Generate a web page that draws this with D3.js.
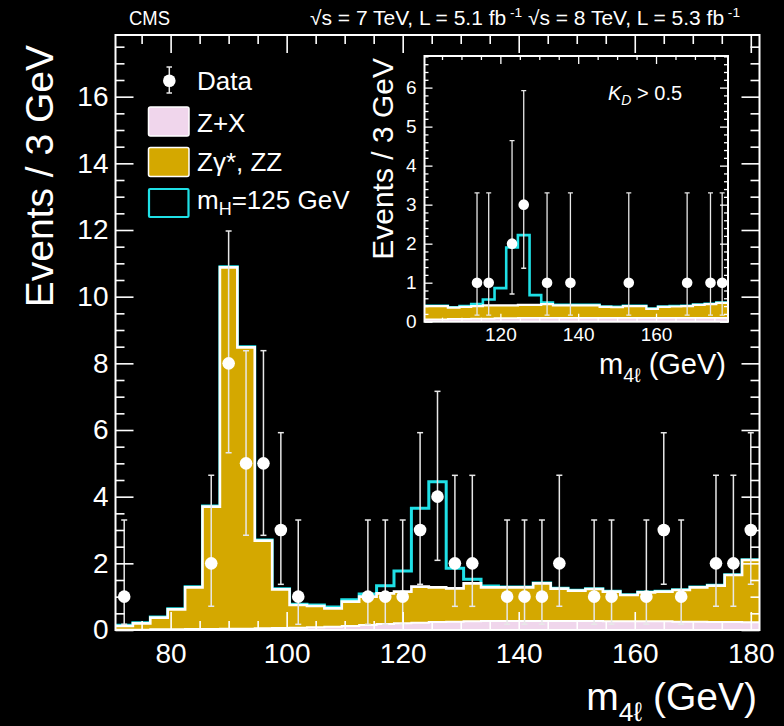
<!DOCTYPE html>
<html><head><meta charset="utf-8">
<script src="https://cdn.jsdelivr.net/npm/d3@7"></script>
<style>
body{margin:0;background:#000;}
svg{display:block;background:#000;}
text{font-family:"Liberation Sans",Arial,Helvetica,sans-serif;fill:#fff;}
</style></head><body>
<svg id="c" width="784" height="726"></svg>
<script>
// ---------- main histogram (3 GeV bins) ----------
const binCenters = [72,75,78,81,84,87,90,93,96,99,102,105,108,111,114,117,120,123,126,129,132,135,138,141,144,147,150,153,156,159,162,165,168,171,174,177,180];
const zxMain  = [0.01,0.01,0.02,0.02,0.03,0.03,0.04,0.04,0.05,0.06,0.07,0.08,0.10,0.12,0.15,0.18,0.20,0.22,0.24,0.25,0.26,0.27,0.27,0.27,0.27,0.27,0.27,0.27,0.26,0.26,0.26,0.26,0.25,0.25,0.24,0.24,0.23];
const zzMain  = [0.11,0.19,0.35,0.60,1.25,3.67,10.84,8.44,2.63,1.16,0.68,0.64,0.55,0.73,0.85,0.92,0.95,1.08,1.04,1.00,1.14,1.01,1.01,1.01,1.13,0.97,0.91,0.96,0.89,0.79,0.87,0.89,0.95,1.03,1.09,1.41,1.87];
const sigMain = [0.02,0.02,0.02,0.02,0.02,0.02,0.02,0.02,0.02,0.02,0.02,0.03,0.04,0.06,0.08,0.23,0.62,2.35,3.17,0.60,0.12,0.04,0.01,0.01,0.01,0.01,0.01,0.01,0.01,0.01,0.01,0.01,0.01,0.01,0.01,0.01,0.01];

const dataMass  = [72,87,90,93,96,99,102,114,117,120,123,126,129,132,138,141,144,147,153,156,162,165,168,174,177,180];
const dataCount = [1,2,8,5,5,3,1,1,1,1,3,4,2,2,1,1,1,2,1,1,1,3,1,2,2,3];
const dataLow   = [0.17,0.71,5.32,2.84,2.84,1.37,0.17,0.17,0.17,0.17,1.37,2.09,0.71,0.71,0.17,0.17,0.17,0.71,0.17,0.17,0.17,1.37,0.17,0.71,0.71,1.37];
const dataHigh  = [3.30,4.64,11.97,8.38,8.38,5.92,3.30,3.30,3.30,3.30,5.92,7.16,4.64,4.64,3.30,3.30,3.30,4.64,3.30,3.30,3.30,5.92,3.30,4.64,4.64,5.92];

const xTicksMain = [80,100,120,140,160,180];
const yTicksMain = [0,2,4,6,8,10,12,14,16];

// ---------- inset (K_D > 0.5) ----------
const insetCenters = [102,105,108,111,114,117,120,123,126,129,132,135,138,141,144,147,150,153,156,159,162,165,168,171,174,177];
const zxInset  = [0.06,0.06,0.07,0.07,0.08,0.08,0.09,0.09,0.10,0.10,0.10,0.10,0.10,0.10,0.10,0.10,0.10,0.10,0.10,0.10,0.10,0.10,0.10,0.10,0.10,0.10];
const zzInset  = [0.34,0.34,0.29,0.31,0.32,0.34,0.33,0.33,0.33,0.33,0.35,0.32,0.32,0.32,0.32,0.28,0.27,0.30,0.30,0.23,0.28,0.29,0.30,0.33,0.35,0.38];
const sigInset = [0.01,0.01,0.01,0.02,0.05,0.15,0.44,1.48,1.79,0.25,0.04,0.01,0.01,0.01,0.01,0.01,0.01,0.01,0.01,0.01,0.01,0.01,0.01,0.01,0.01,0.01];
const insetMass  = [114,117,123,126,132,138,153,168,174,177];
const insetCount = [1,1,2,3,1,1,1,1,1,1];
const insetLow   = [0.17,0.17,0.71,1.37,0.17,0.17,0.17,0.17,0.17,0.17];
const insetHigh  = [3.30,3.30,4.64,5.92,3.30,3.30,3.30,3.30,3.30,3.30];
const xTicksInset = [120,140,160];
const yTicksInset = [0,1,2,3,4,5,6];

const legendLabels = ["Data","Z+X","Zγ*, ZZ","mH=125 GeV"];

// ---------- colours ----------
const GOLD = "#d4a800", PINK = "#f0d6ec", CYAN = "#1fe0e6", WHITE = "#ffffff";

const svg = d3.select("#c");
const HALF = 1.5;
const fmtInt = d3.format("d");

function steps(centers, vals){
  const pts = [];
  centers.forEach((c,i)=>{ pts.push([c-HALF, vals[i]]); pts.push([c+HALF, vals[i]]); });
  return pts;
}

function drawPanel(g, o){
  const {x, y, centers, zx, zz, sig, mass, low, high, count, clipId, r, cyanW, whiteW, capW, errW} = o;
  const tot = zz.map((v,i)=>v+zx[i]);
  const totSig = tot.map((v,i)=>v+sig[i]);
  const [x0,x1] = x.range(), [y0,y1] = y.range();
  g.append("clipPath").attr("id",clipId).append("rect")
    .attr("x",x0).attr("y",y1).attr("width",x1-x0).attr("height",y0-y1);
  const c = g.append("g").attr("clip-path",`url(#${clipId})`);
  const line = d3.line().x(d=>x(d[0])).y(d=>y(d[1]));
  const area = d3.area().x(d=>x(d[0])).y0(y(0)).y1(d=>y(d[1]));
  c.append("path").attr("d",line(steps(centers,totSig))).attr("fill","none").attr("stroke",CYAN).attr("stroke-width",cyanW);
  c.append("path").attr("d",area(steps(centers,tot))).attr("fill",GOLD);
  c.append("path").attr("d",area(steps(centers,zx))).attr("fill",PINK);
  c.append("path").attr("d",line(steps(centers,tot))).attr("fill","none").attr("stroke",WHITE).attr("stroke-width",whiteW);
  c.append("path").attr("d",line(steps(centers,zx))).attr("fill","none").attr("stroke",WHITE).attr("stroke-width",whiteW*0.8);
  const dg = c.append("g");
  mass.forEach((m,i)=>{
    const px = x(m);
    dg.append("line").attr("x1",px).attr("x2",px).attr("y1",y(low[i])).attr("y2",y(high[i])).attr("stroke","#e8e8e8").attr("stroke-width",errW);
    [low[i],high[i]].forEach(v=>{
      dg.append("line").attr("x1",px-capW).attr("x2",px+capW).attr("y1",y(v)).attr("y2",y(v)).attr("stroke","#e8e8e8").attr("stroke-width",errW);
    });
    dg.append("circle").attr("cx",px).attr("cy",y(count[i])).attr("r",r).attr("fill",WHITE);
  });
}

function minorVals(lo, hi, step, majors){
  const out=[];
  for(let v=Math.ceil(lo/step)*step; v<=hi+1e-9; v+=step){
    const vv=Math.round(v*1000)/1000;
    if(!majors.some(m=>Math.abs(m-vv)<1e-6)) out.push(vv);
  }
  return out;
}

function drawAxes(g, o){
  const {x, y, xMaj, yMaj, xMinStep, yMinStep, majL, minL, fs, xPad, yPad, lw, frameW} = o;
  const [x0,x1] = x.range(), [y0,y1] = y.range();
  const xd = x.domain(), yd = y.domain();
  const xMin = minorVals(xd[0], xd[1], xMinStep, xMaj);
  const yMin = minorVals(yd[0], yd[1], yMinStep, yMaj);
  const style = sel => { sel.select(".domain").remove(); sel.selectAll("line").attr("stroke",WHITE).attr("stroke-width",lw); };
  g.append("g").attr("transform",`translate(0,${y0})`).call(d3.axisBottom(x).tickValues(xMaj).tickSize(-majL).tickPadding(xPad).tickFormat(fmtInt)).call(style)
    .selectAll("text").attr("font-size",fs).attr("fill",WHITE).style("font-family","'Liberation Sans',Arial,sans-serif");
  g.append("g").attr("transform",`translate(0,${y0})`).call(d3.axisBottom(x).tickValues(xMin).tickSize(-minL).tickFormat("")).call(style);
  g.append("g").attr("transform",`translate(0,${y1})`).call(d3.axisTop(x).tickValues(xMaj).tickSize(-majL).tickFormat("")).call(style);
  g.append("g").attr("transform",`translate(0,${y1})`).call(d3.axisTop(x).tickValues(xMin).tickSize(-minL).tickFormat("")).call(style);
  g.append("g").attr("transform",`translate(${x0},0)`).call(d3.axisLeft(y).tickValues(yMaj).tickSize(-majL).tickPadding(yPad).tickFormat(fmtInt)).call(style)
    .selectAll("text").attr("font-size",fs).attr("fill",WHITE).style("font-family","'Liberation Sans',Arial,sans-serif");
  g.append("g").attr("transform",`translate(${x0},0)`).call(d3.axisLeft(y).tickValues(yMin).tickSize(-minL).tickFormat("")).call(style);
  g.append("g").attr("transform",`translate(${x1},0)`).call(d3.axisRight(y).tickValues(yMaj).tickSize(-majL).tickFormat("")).call(style);
  g.append("g").attr("transform",`translate(${x1},0)`).call(d3.axisRight(y).tickValues(yMin).tickSize(-minL).tickFormat("")).call(style);
  g.append("rect").attr("x",x0).attr("y",y1).attr("width",x1-x0).attr("height",y0-y1)
    .attr("fill","none").attr("stroke",WHITE).attr("stroke-width",frameW);
}

// ---------- main panel ----------
const xM = d3.scaleLinear().domain([70.5,181.5]).range([115.5,759.5]);
const yM = d3.scaleLinear().domain([0,17.85]).range([630,35]);
const gMain = svg.append("g");
drawPanel(gMain,{x:xM,y:yM,centers:binCenters,zx:zxMain,zz:zzMain,sig:sigMain,mass:dataMass,low:dataLow,high:dataHigh,count:dataCount,clipId:"clipMain",r:6.3,cyanW:3,whiteW:2.6,capW:3,errW:1.5});
drawAxes(gMain,{x:xM,y:yM,xMaj:xTicksMain,yMaj:yTicksMain,xMinStep:5,yMinStep:0.5,majL:18,minL:9,fs:28,xPad:13,yPad:7,lw:1.6,frameW:2});

// ---------- inset ----------
const xI = d3.scaleLinear().domain([100.5,178.5]).range([424.5,728]);
const yI = d3.scaleLinear().domain([0,6.81]).range([321.7,56]);
const gIn = svg.append("g");
gIn.append("rect").attr("x",424.5).attr("y",56).attr("width",728-424.5).attr("height",321.7-56).attr("fill","#000");
drawPanel(gIn,{x:xI,y:yI,centers:insetCenters,zx:zxInset,zz:zzInset,sig:sigInset,mass:insetMass,low:insetLow,high:insetHigh,count:insetCount,clipId:"clipIn",r:5.3,cyanW:2.6,whiteW:2.2,capW:2.5,errW:1.3});
drawAxes(gIn,{x:xI,y:yI,xMaj:xTicksInset,yMaj:yTicksInset,xMinStep:5,yMinStep:0.2,majL:8,minL:4,fs:19,xPad:6,yPad:8,lw:1.3,frameW:2});

// ---------- titles ----------
svg.append("text").attr("transform","translate(53,45) rotate(-90)").attr("text-anchor","end")
  .attr("font-size",39).text("Events / 3 GeV");
svg.append("text").attr("transform","translate(393,58) rotate(-90)").attr("text-anchor","end")
  .attr("font-size",30).text("Events / 3 GeV");

function massTitle(xp, yp, fs){
  const t = svg.append("text").attr("x",xp).attr("y",yp).attr("text-anchor","end").attr("font-size",fs);
  t.append("tspan").text("m");
  t.append("tspan").attr("font-size",fs*0.68).attr("dy",fs*0.28).text("4ℓ");
  t.append("tspan").attr("dy",-fs*0.28).text(" (GeV)");
}
massTitle(757,710,39);
massTitle(726,374,29);

// K_D label
const kd = svg.append("text").attr("x",608).attr("y",100).attr("font-size",20);
kd.append("tspan").attr("font-style","italic").text("K");
kd.append("tspan").attr("font-style","italic").attr("font-size",14).attr("dy",5).text("D");
kd.append("tspan").attr("dy",-5).text(" > 0.5");

// header
svg.append("text").attr("x",129).attr("y",25).attr("font-size",20).attr("textLength",41).attr("lengthAdjust","spacingAndGlyphs").text("CMS");
const hd = svg.append("text").attr("x",310).attr("y",25).attr("font-size",20).attr("textLength",430).attr("lengthAdjust","spacingAndGlyphs");
hd.append("tspan").text("√s = 7 TeV, L = 5.1 fb");
hd.append("tspan").attr("font-size",13).attr("dy",-8).text(" -1");
hd.append("tspan").attr("dy",8).text("   √s = 8 TeV, L = 5.3 fb");
hd.append("tspan").attr("font-size",13).attr("dy",-8).text(" -1");

// ---------- legend ----------
const lg = svg.append("g");
lg.append("line").attr("x1",169.3).attr("x2",169.3).attr("y1",67).attr("y2",93).attr("stroke","#e8e8e8").attr("stroke-width",1.5);
[67,93].forEach(v=>lg.append("line").attr("x1",166.5).attr("x2",172).attr("y1",v).attr("y2",v).attr("stroke","#e8e8e8").attr("stroke-width",1.5));
lg.append("circle").attr("cx",169.3).attr("cy",80.7).attr("r",6.3).attr("fill",WHITE);
lg.append("text").attr("x",197).attr("y",89.5).attr("font-size",26).text(legendLabels[0]);
lg.append("rect").attr("x",148.5).attr("y",107).attr("width",40.5).attr("height",29).attr("rx",2).attr("fill",PINK).attr("stroke",WHITE).attr("stroke-width",1.5);
lg.append("text").attr("x",197).attr("y",131.5).attr("font-size",26).text(legendLabels[1]);
lg.append("rect").attr("x",148.5).attr("y",147.5).attr("width",40.5).attr("height",29).attr("rx",2).attr("fill",GOLD).attr("stroke",WHITE).attr("stroke-width",1.5);
lg.append("text").attr("x",197).attr("y",171).attr("font-size",26).text(legendLabels[2]);
lg.append("rect").attr("x",149).attr("y",189).attr("width",39.5).attr("height",28).attr("rx",1).attr("fill","#000").attr("stroke",CYAN).attr("stroke-width",2.2);
const mh = lg.append("text").attr("x",197).attr("y",208.5).attr("font-size",26);
mh.append("tspan").text("m");
mh.append("tspan").attr("font-size",18).attr("dy",6).text("H");
mh.append("tspan").attr("dy",-6).text("=125 GeV");
</script>
</body></html>
